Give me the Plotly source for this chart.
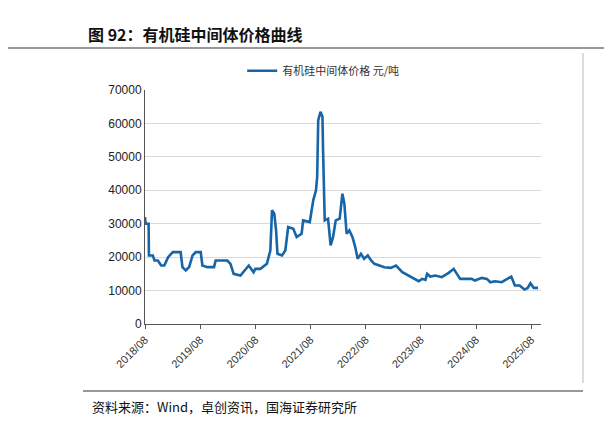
import plotly.graph_objects as go

dates = ["2018-08-01","2018-08-05","2018-08-25","2018-08-27","2018-09-22","2018-10-03","2018-10-25","2018-11-16","2018-12-07","2019-01-01","2019-02-01","2019-03-25","2019-04-06","2019-04-28","2019-05-20","2019-06-12","2019-07-03","2019-08-05","2019-08-16","2019-09-18","2019-11-01","2019-11-12","2020-01-28","2020-02-18","2020-03-10","2020-04-24","2020-06-18","2020-07-20","2020-08-01","2020-09-03","2020-10-16","2020-11-08","2020-11-19","2020-12-04","2020-12-16","2020-12-25","2021-01-24","2021-02-15","2021-03-06","2021-04-09","2021-05-01","2021-06-03","2021-06-13","2021-07-27","2021-08-19","2021-09-06","2021-09-14","2021-09-21","2021-10-06","2021-10-19","2021-10-23","2021-11-03","2021-11-25","2021-12-12","2021-12-28","2022-01-15","2022-02-10","2022-02-28","2022-03-13","2022-03-28","2022-04-15","2022-05-06","2022-05-24","2022-06-09","2022-07-01","2022-07-22","2022-08-15","2022-09-06","2022-09-28","2022-11-01","2022-12-03","2023-01-15","2023-02-18","2023-04-01","2023-06-06","2023-07-18","2023-08-10","2023-09-01","2023-09-12","2023-10-03","2023-11-06","2023-12-18","2024-02-02","2024-03-06","2024-03-27","2024-04-18","2024-07-03","2024-07-25","2024-09-08","2024-10-12","2024-11-03","2024-12-04","2025-01-18","2025-02-20","2025-03-22","2025-04-15","2025-05-16","2025-06-18","2025-07-09","2025-07-27","2025-08-18","2025-09-15"]
prices = [32000,30000,30000,20500,20500,19000,19000,17500,17500,20000,21500,21500,17000,16000,17000,20500,21500,21500,17500,17000,17000,19000,19000,18000,15000,14500,17500,15500,16500,16500,18000,22000,34000,33000,28000,21000,20500,22000,29000,28500,26000,27000,31000,30500,37000,40000,44000,61000,63500,62000,52000,31000,31500,23500,26000,31000,31500,39000,36000,27000,28000,26000,23000,19500,21000,19500,20500,19000,18000,17500,17000,16800,17500,15500,14000,12800,13500,13200,15000,14200,14500,14000,15300,16500,15000,13500,13500,13000,13800,13500,12500,12800,12500,13500,14200,11500,11500,10300,10800,12200,10800,10800]
tick_vals = ["2018-08-01","2019-08-01","2020-08-01","2021-08-01","2022-08-01","2023-08-01","2024-08-01","2025-08-01"]
tick_text = ["2018/08","2019/08","2020/08","2021/08","2022/08","2023/08","2024/08","2025/08"]

blue = "#1565a8"
fig = go.Figure(go.Scatter(x=dates, y=prices, mode="lines", name="有机硅中间体价格 元/吨",
                           line=dict(color=blue, width=2.6)))
font = "Noto Sans CJK SC"
fig.update_layout(
    width=612, height=421, margin=dict(l=137, r=79, t=82, b=105, autoexpand=False),
    paper_bgcolor="white", plot_bgcolor="white",
    font=dict(family="Liberation Sans, Arial", size=12, color="#000"),
    showlegend=True,
    legend=dict(orientation="h", x=0.45, xanchor="center", y=1.02, yanchor="bottom",
                font=dict(family=font, size=11, color="#333")),
    xaxis=dict(type="date", range=["2018-08-01","2025-10-05"], tickvals=tick_vals, ticktext=tick_text,
               tickangle=-45, showgrid=False, showline=True, linecolor="#555", ticks="outside",
               ticklen=4, tickcolor="#555", tickfont=dict(size=11, color="#333"), automargin=False),
    yaxis=dict(range=[0, 70000], dtick=10000, showgrid=True, gridcolor="#d9d9d9", showline=True,
               linecolor="#555", ticks="", zeroline=False, tickformat="d", automargin=False,
               tickfont=dict(size=12, color="#222")),
    shapes=[
        dict(type="line", xref="paper", yref="paper", x0=-137/396, x1=(612-137)/396*1.2, y0=1+ (82-40)/234, y1=1+(82-40)/234, line=dict(color="#333", width=1)),
        dict(type="line", xref="paper", yref="paper", x0=-137/396+75/396, x1=(575-137)/396, y0=-(383-316)/234, y1=-(383-316)/234, line=dict(color="#333", width=1)),
        dict(type="line", xref="paper", yref="paper", x0=(575-137)/396, x1=(575-137)/396, y0=-(375-316)/234, y1=1+(82-45)/234, line=dict(color="#bbb", width=1)),
    ],
    annotations=[
        dict(text="<b>图 92：有机硅中间体价格曲线</b>", xref="paper", yref="paper", x=-(137-78)/396, y=1+(82-12)/234,
             xanchor="left", yanchor="top", showarrow=False, font=dict(family=font, size=16, color="#111")),
        dict(text="资料来源：Wind，卓创资讯，国海证券研究所", xref="paper", yref="paper", x=-(137-82)/396, y=-(387-316)/234,
             xanchor="left", yanchor="top", showarrow=False, font=dict(family=font, size=13, color="#111")),
    ],
)
fig.write_html("out.html")
